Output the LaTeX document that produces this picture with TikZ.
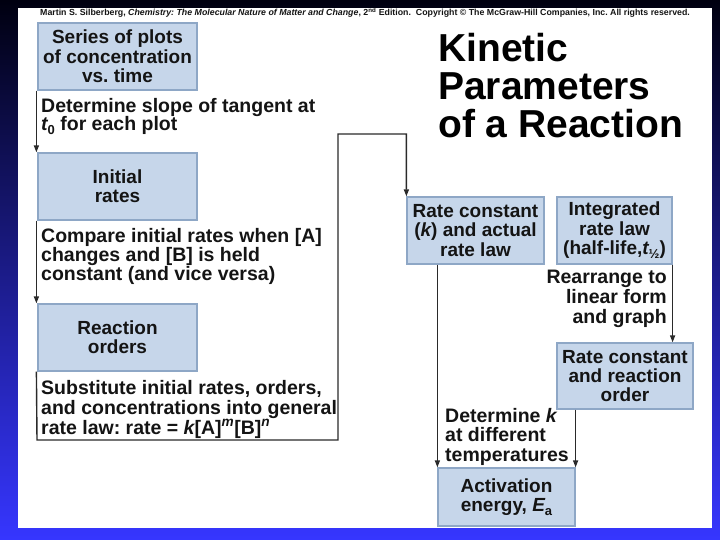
\documentclass[tikz,border=0pt]{standalone}
\usepackage{fontspec}
\setmainfont{Liberation Sans}
\usetikzlibrary{arrows.meta}
\definecolor{boxfill}{HTML}{C6D6EA}
\definecolor{boxline}{HTML}{8EA7C6}
\definecolor{ink}{HTML}{141414}
\definecolor{linec}{HTML}{2A2A2A}
\definecolor{bgtop}{HTML}{000010}
\definecolor{bgmid}{HTML}{1E1EA8}
\definecolor{bgbot}{HTML}{3636FF}
\frenchspacing
\newcommand\leftlines[2]{\vtop{\baselineskip=#1\relax\lineskiplimit=-20pt\halign{##\hfil\cr #2\crcr}}}
\newcommand\rightlines[2]{\vtop{\baselineskip=#1\relax\lineskiplimit=-20pt\halign{\hfil##\cr #2\crcr}}}
\newcommand\subsm[1]{\raisebox{-0.22em}{\fontsize{13}{13}\selectfont #1}}
\tikzset{
  kbox/.style={draw=boxline, line width=1.2pt, fill=boxfill, inner sep=0pt,
    align=center, text=ink, font=\fontsize{19}{19.3}\selectfont\bfseries},
  klabel/.style={inner sep=0pt, text=ink, font=\fontsize{19.5}{19}\selectfont\bfseries, anchor=base west},
  kflow/.style={draw=linec, line width=1.4pt, -{Triangle[length=7pt,width=5pt]}},
  kline/.style={draw=linec, line width=1.4pt}
}
\begin{document}
\begin{tikzpicture}[x=1pt,y=-1pt]
\useasboundingbox (0,0) rectangle (720,540);
\shade[top color=bgtop, middle color=bgmid, bottom color=bgbot] (0,0) rectangle (720,540);
\fill[white] (18,8) rectangle (712,528);

\node[inner sep=0pt, anchor=base west, text=ink, font=\fontsize{8.8}{9}\selectfont\bfseries] (copy) at (40,16)
  {Martin S. Silberberg, \textit{Chemistry: The Molecular Nature of Matter and Change}, 2\textsuperscript{nd} Edition.\ \ Copyright © The McGraw-Hill Companies, Inc. All rights reserved.};

\node[inner sep=0pt, anchor=base west, text=black, font=\fontsize{39}{38}\selectfont\bfseries] (title) at (438,62)
  {\leftlines{38pt}{Kinetic\cr Parameters\cr of a Reaction}};

% boxes
\node[kbox, minimum width=159pt, minimum height=67pt] (b1) at (117.5,56.5) {Series of plots\\of concentration\\vs. time};
\node[kbox, minimum width=159pt, minimum height=67pt] (b2) at (117.5,186.5) {Initial\\rates};
\node[kbox, minimum width=159pt, minimum height=67pt] (b3) at (117.5,337.5) {Reaction\\orders};
\node[kbox, minimum width=137pt, minimum height=67pt] (rc) at (475.5,230.5) {Rate constant\\({\itshape k}) and actual\\rate law};
\node[kbox, minimum width=115pt, minimum height=67pt] (ig) at (614.5,230.5) {Integrated\\rate law\\(half-life,{\itshape t}\subsm{½})};
\node[kbox, minimum width=136pt, minimum height=66pt] (ro) at (625,376) {Rate constant\\and reaction\\order};
\node[kbox, minimum width=137pt, minimum height=58pt] (ae) at (506.5,497) {Activation\\energy, {\itshape E}\subsm{a}};

% labels
\node[klabel] (l1) at (41,113) {\leftlines{17.5pt}{Determine slope of tangent at\cr {\itshape t}\subsm{0} for each plot}};
\node[klabel] (l2) at (41,243) {\leftlines{19pt}{Compare initial rates when [A]\cr changes and [B] is held\cr constant (and vice versa)}};
\node[klabel] (l3) at (41,394) {\leftlines{20pt}{Substitute initial rates, orders,\cr and concentrations into general\cr rate law: rate = {\itshape k}[A]\textsuperscript{\itshape m}[B]\textsuperscript{\itshape n}}};
\node[klabel, anchor=base east] (l4) at (667,283) {\rightlines{20pt}{Rearrange to\cr linear form\cr and graph}};
\node[klabel] (l5) at (445,422) {\leftlines{19.5pt}{Determine {\itshape k}\cr at different\cr temperatures}};

% connectors
\coordinate (lb) at (37,440);
\coordinate (rb) at (338,440);
\coordinate (rt) at (338,134);
\draw[kflow] ([xshift=-1pt]b1.south west) -- ([xshift=-1pt]b2.north west);
\draw[kflow] ([xshift=-1pt]b2.south west) -- ([xshift=-1pt]b3.north west);
\draw[kflow] ([xshift=-1pt]b3.south west) -- (lb) -- (rb) -- (rt) -- (rt -| rc.west) -- (rc.north west);
\draw[kflow] (ae.west |- rc.south) -- (ae.north west);
\draw[kflow] (ig.south east) -- (ig.south east |- ro.north);
\draw[kflow] (ae.east |- ro.south) -- (ae.north east);
\end{tikzpicture}
\end{document}
